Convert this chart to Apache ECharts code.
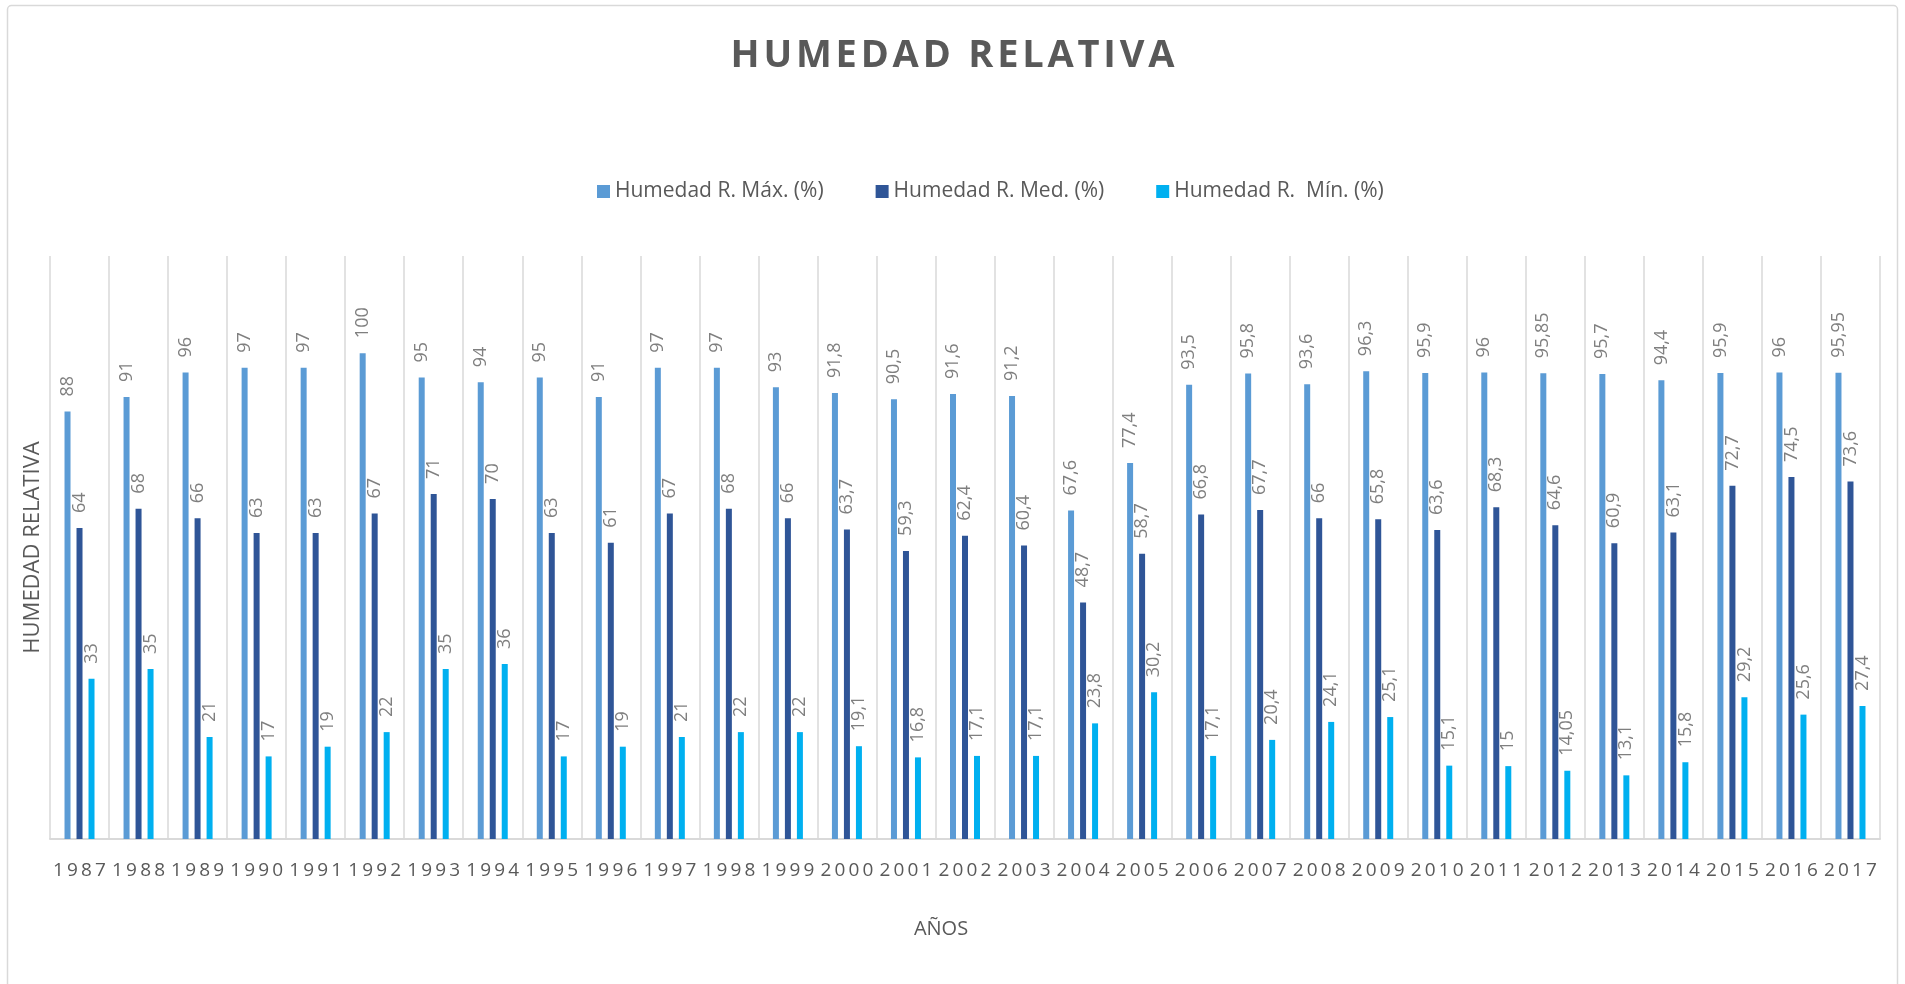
<!DOCTYPE html>
<html>
<head>
<meta charset="utf-8">
<title>Humedad relativa</title>
<script src="https://cdn.jsdelivr.net/npm/echarts@6/dist/echarts.min.js"></script>
<style>
    html, body { margin: 0; padding: 0; background: #fff; }
    #chart { width: 1905px; height: 984px; }
</style>
</head>
<body>
<div id="chart"></div>
<script>
const years = ['1987', '1988', '1989', '1990', '1991', '1992', '1993', '1994', '1995', '1996',
    '1997', '1998', '1999', '2000', '2001', '2002', '2003', '2004', '2005', '2006', '2007',
    '2008', '2009', '2010', '2011', '2012', '2013', '2014', '2015', '2016', '2017'];

const humMax = [88, 91, 96, 97, 97, 100, 95, 94, 95, 91, 97, 97, 93, 91.8, 90.5, 91.6, 91.2,
    67.6, 77.4, 93.5, 95.8, 93.6, 96.3, 95.9, 96, 95.85, 95.7, 94.4, 95.9, 96, 95.95];

const humMed = [64, 68, 66, 63, 63, 67, 71, 70, 63, 61, 67, 68, 66, 63.7, 59.3, 62.4, 60.4,
    48.7, 58.7, 66.8, 67.7, 66, 65.8, 63.6, 68.3, 64.6, 60.9, 63.1, 72.7, 74.5, 73.6];

const humMin = [33, 35, 21, 17, 19, 22, 35, 36, 17, 19, 21, 22, 22, 19.1, 16.8, 17.1, 17.1,
    23.8, 30.2, 17.1, 20.4, 24.1, 25.1, 15.1, 15, 14.05, 13.1, 15.8, 29.2, 25.6, 27.4];

const seriesNames = ['Humedad R. Máx. (%)', 'Humedad R. Med. (%)', 'Humedad R.  Mín. (%)'];
const colors = ['#5B9BD5', '#2F5597', '#00B0F0'];

const font = '"Open Sans", sans-serif';

// no letterSpacing in zrender, so space the letters out by hand
const spaced = (s, sp) => s.split('').join(sp);

// excel style labels: decimal comma, vertical
const barLabel = {
    show: true,
    position: 'top',
    rotate: 90,
    align: 'left',
    verticalAlign: 'middle',
    distance: 15,
    color: '#7F7F7F',
    fontFamily: font,
    fontSize: 18,
    formatter: p => String(p.value).replace('.', ',')
};

function makeSeries(name, data, color) {
    return {
        name: name,
        type: 'bar',
        data: data,
        barWidth: 6,
        barGap: '100%',
        itemStyle: { color: color },
        label: barLabel
    };
}

const chart = echarts.init(document.getElementById('chart'));

chart.setOption({
    animation: false,
    backgroundColor: '#fff',
    title: {
        text: spaced('HUMEDAD RELATIVA', '\u200A'),
        left: 'center',
        top: 32,
        textStyle: { fontFamily: font, fontSize: 38, fontWeight: 'bold', color: '#595959' }
    },
    legend: {
        left: 592,
        top: 176,
        itemWidth: 13,
        itemHeight: 13,
        itemGap: 52,
        icon: 'rect',
        textStyle: { fontFamily: font, fontSize: 21, color: '#595959' },
        data: seriesNames
    },
    graphic: [{
        type: 'rect',
        shape: { x: 7.5, y: 5.5, width: 1890, height: 990, r: 4 },
        style: { fill: 'none', stroke: '#D9D9D9', lineWidth: 1.5 },
        silent: true
    }],
    grid: { left: 50, right: 25, top: 256, bottom: 145 },
    xAxis: {
        type: 'category',
        data: years,
        name: 'AÑOS',
        nameLocation: 'middle',
        nameGap: 80,
        nameTextStyle: { fontFamily: font, fontSize: 20, color: '#595959', padding: [0, 48, 0, 0] },
        axisLine: { lineStyle: { color: '#D9D9D9', width: 2 } },
        axisTick: { show: false },
        axisLabel: {
            interval: 0,
            margin: 22,
            fontFamily: font,
            fontSize: 19,
            color: '#595959',
            formatter: v => spaced(v, '\u2009')
        },
        splitLine: { show: true, lineStyle: { color: '#D9D9D9', width: 1.5 } }
    },
    yAxis: {
        type: 'value',
        min: 0,
        max: 120,
        name: 'HUMEDAD RELATIVA',
        nameLocation: 'middle',
        nameGap: 6,
        nameTextStyle: { fontFamily: font, fontSize: 22, color: '#595959' },
        axisLine: { show: false },
        axisTick: { show: false },
        axisLabel: { show: false },
        splitLine: { show: false }
    },
    series: [
        makeSeries(seriesNames[0], humMax, colors[0]),
        makeSeries(seriesNames[1], humMed, colors[1]),
        makeSeries(seriesNames[2], humMin, colors[2])
    ]
});

window.addEventListener('resize', () => chart.resize());
</script>
</body>
</html>
